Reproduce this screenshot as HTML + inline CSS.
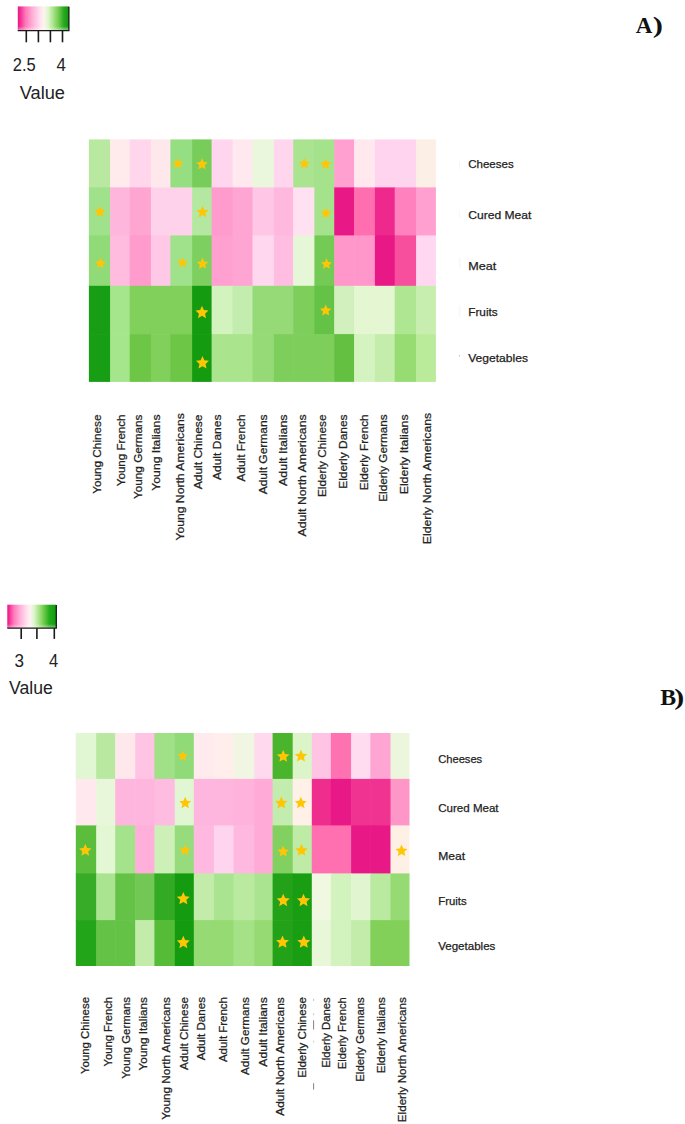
<!DOCTYPE html>
<html lang="en"><head><meta charset="utf-8"><title>Heatmaps</title>
<style>
html,body{margin:0;padding:0;background:#fff;}
body{width:685px;height:1124px;overflow:hidden;}
svg{display:block;}
.lab{font-family:"Liberation Sans",sans-serif;font-size:11.6px;fill:#222;stroke:#222;stroke-width:0.25px;}
.leg{font-family:"Liberation Sans",sans-serif;font-size:17.5px;fill:#222;}
.num{font-size:19px;}
.ttl{font-family:"Liberation Serif",serif;font-weight:bold;font-size:23px;fill:#111;}
</style></head><body>
<svg width="685" height="1124" viewBox="0 0 685 1124">
<defs>
<linearGradient id="lg" x1="0" x2="1" y1="0" y2="0">
<stop offset="0" stop-color="#e81685"/><stop offset="0.06" stop-color="#f5359a"/><stop offset="0.15" stop-color="#ff78b8"/><stop offset="0.3" stop-color="#ffb4da"/><stop offset="0.44" stop-color="#ffe2f0"/><stop offset="0.51" stop-color="#fdf4ee"/><stop offset="0.6" stop-color="#dcf5ca"/><stop offset="0.7" stop-color="#a6e286"/><stop offset="0.8" stop-color="#70c94d"/><stop offset="0.9" stop-color="#28aa20"/><stop offset="1" stop-color="#10940e"/>
</linearGradient>
<linearGradient id="lg2" x1="0" x2="1" y1="0" y2="0">
<stop offset="0" stop-color="#e81685"/><stop offset="0.05" stop-color="#f5359a"/><stop offset="0.13" stop-color="#ff78b8"/><stop offset="0.27" stop-color="#ffb4da"/><stop offset="0.40" stop-color="#ffe2f0"/><stop offset="0.47" stop-color="#fdf4ee"/><stop offset="0.55" stop-color="#dcf5ca"/><stop offset="0.65" stop-color="#a6e286"/><stop offset="0.75" stop-color="#6cc948"/><stop offset="0.86" stop-color="#22ac1c"/><stop offset="1" stop-color="#129a10"/>
</linearGradient>
<linearGradient id="sh" x1="0" x2="0" y1="0" y2="1">
<stop offset="0" stop-color="#fff" stop-opacity="0"/><stop offset="0.82" stop-color="#fff" stop-opacity="0"/><stop offset="1" stop-color="#fff" stop-opacity="0.5"/>
</linearGradient>
</defs>
<rect width="685" height="1124" fill="#fff"/>
<g id="heatA"><rect x="88.90" y="139.40" width="21.80" height="48.60" fill="rgb(185,232,160)"/>
<rect x="110.10" y="139.40" width="20.20" height="48.60" fill="rgb(255,235,235)"/>
<rect x="129.70" y="139.40" width="21.80" height="48.60" fill="rgb(255,214,236)"/>
<rect x="150.90" y="139.40" width="20.10" height="48.60" fill="rgb(255,232,236)"/>
<rect x="170.40" y="139.40" width="22.30" height="48.60" fill="rgb(150,222,130)"/>
<rect x="192.10" y="139.40" width="20.10" height="48.60" fill="rgb(120,205,90)"/>
<rect x="211.60" y="139.40" width="21.60" height="48.60" fill="rgb(255,214,238)"/>
<rect x="232.60" y="139.40" width="20.50" height="48.60" fill="rgb(255,232,238)"/>
<rect x="252.50" y="139.40" width="22.00" height="48.60" fill="rgb(234,247,221)"/>
<rect x="273.90" y="139.40" width="19.90" height="48.60" fill="rgb(255,214,238)"/>
<rect x="293.20" y="139.40" width="21.80" height="48.60" fill="rgb(170,228,145)"/>
<rect x="314.40" y="139.40" width="20.40" height="48.60" fill="rgb(165,226,140)"/>
<rect x="334.20" y="139.40" width="20.50" height="48.60" fill="rgb(255,160,208)"/>
<rect x="354.10" y="139.40" width="21.40" height="48.60" fill="rgb(255,232,238)"/>
<rect x="374.90" y="139.40" width="20.40" height="48.60" fill="rgb(255,212,238)"/>
<rect x="394.70" y="139.40" width="22.00" height="48.60" fill="rgb(255,212,238)"/>
<rect x="416.10" y="139.40" width="19.80" height="48.60" fill="rgb(252,240,230)"/>
<rect x="88.90" y="187.40" width="21.80" height="48.60" fill="rgb(160,226,140)"/>
<rect x="110.10" y="187.40" width="20.20" height="48.60" fill="rgb(255,182,220)"/>
<rect x="129.70" y="187.40" width="21.80" height="48.60" fill="rgb(255,165,210)"/>
<rect x="150.90" y="187.40" width="20.10" height="48.60" fill="rgb(255,210,236)"/>
<rect x="170.40" y="187.40" width="22.30" height="48.60" fill="rgb(255,210,236)"/>
<rect x="192.10" y="187.40" width="20.10" height="48.60" fill="rgb(180,232,160)"/>
<rect x="211.60" y="187.40" width="21.60" height="48.60" fill="rgb(255,155,205)"/>
<rect x="232.60" y="187.40" width="20.50" height="48.60" fill="rgb(255,165,212)"/>
<rect x="252.50" y="187.40" width="22.00" height="48.60" fill="rgb(255,198,229)"/>
<rect x="273.90" y="187.40" width="19.90" height="48.60" fill="rgb(255,185,222)"/>
<rect x="293.20" y="187.40" width="21.80" height="48.60" fill="rgb(255,225,242)"/>
<rect x="314.40" y="187.40" width="20.40" height="48.60" fill="rgb(165,226,140)"/>
<rect x="334.20" y="187.40" width="20.50" height="48.60" fill="rgb(232,25,135)"/>
<rect x="354.10" y="187.40" width="21.40" height="48.60" fill="rgb(255,110,175)"/>
<rect x="374.90" y="187.40" width="20.40" height="48.60" fill="rgb(238,40,140)"/>
<rect x="394.70" y="187.40" width="22.00" height="48.60" fill="rgb(255,130,190)"/>
<rect x="416.10" y="187.40" width="19.80" height="48.60" fill="rgb(255,160,208)"/>
<rect x="88.90" y="235.40" width="21.80" height="51.00" fill="rgb(145,218,120)"/>
<rect x="110.10" y="235.40" width="20.20" height="51.00" fill="rgb(255,188,222)"/>
<rect x="129.70" y="235.40" width="21.80" height="51.00" fill="rgb(255,155,205)"/>
<rect x="150.90" y="235.40" width="20.10" height="51.00" fill="rgb(255,200,230)"/>
<rect x="170.40" y="235.40" width="22.30" height="51.00" fill="rgb(160,226,140)"/>
<rect x="192.10" y="235.40" width="20.10" height="51.00" fill="rgb(125,208,95)"/>
<rect x="211.60" y="235.40" width="21.60" height="51.00" fill="rgb(255,160,208)"/>
<rect x="232.60" y="235.40" width="20.50" height="51.00" fill="rgb(255,165,212)"/>
<rect x="252.50" y="235.40" width="22.00" height="51.00" fill="rgb(255,215,238)"/>
<rect x="273.90" y="235.40" width="19.90" height="51.00" fill="rgb(255,190,225)"/>
<rect x="293.20" y="235.40" width="21.80" height="51.00" fill="rgb(230,247,215)"/>
<rect x="314.40" y="235.40" width="20.40" height="51.00" fill="rgb(115,202,85)"/>
<rect x="334.20" y="235.40" width="20.50" height="51.00" fill="rgb(255,151,202)"/>
<rect x="354.10" y="235.40" width="21.40" height="51.00" fill="rgb(255,151,202)"/>
<rect x="374.90" y="235.40" width="20.40" height="51.00" fill="rgb(232,25,135)"/>
<rect x="394.70" y="235.40" width="22.00" height="51.00" fill="rgb(247,78,157)"/>
<rect x="416.10" y="235.40" width="19.80" height="51.00" fill="rgb(255,215,240)"/>
<rect x="88.90" y="285.80" width="21.80" height="48.90" fill="rgb(24,158,20)"/>
<rect x="110.10" y="285.80" width="20.20" height="48.90" fill="rgb(165,230,140)"/>
<rect x="129.70" y="285.80" width="21.80" height="48.90" fill="rgb(130,208,92)"/>
<rect x="150.90" y="285.80" width="20.10" height="48.90" fill="rgb(130,208,92)"/>
<rect x="170.40" y="285.80" width="22.30" height="48.90" fill="rgb(130,208,92)"/>
<rect x="192.10" y="285.80" width="20.10" height="48.90" fill="rgb(20,155,15)"/>
<rect x="211.60" y="285.80" width="21.60" height="48.90" fill="rgb(210,242,190)"/>
<rect x="232.60" y="285.80" width="20.50" height="48.90" fill="rgb(195,236,175)"/>
<rect x="252.50" y="285.80" width="22.00" height="48.90" fill="rgb(150,218,120)"/>
<rect x="273.90" y="285.80" width="19.90" height="48.90" fill="rgb(150,218,120)"/>
<rect x="293.20" y="285.80" width="21.80" height="48.90" fill="rgb(125,206,90)"/>
<rect x="314.40" y="285.80" width="20.40" height="48.90" fill="rgb(100,195,70)"/>
<rect x="334.20" y="285.80" width="20.50" height="48.90" fill="rgb(210,240,190)"/>
<rect x="354.10" y="285.80" width="21.40" height="48.90" fill="rgb(228,247,210)"/>
<rect x="374.90" y="285.80" width="20.40" height="48.90" fill="rgb(228,247,210)"/>
<rect x="394.70" y="285.80" width="22.00" height="48.90" fill="rgb(175,230,145)"/>
<rect x="416.10" y="285.80" width="19.80" height="48.90" fill="rgb(200,238,175)"/>
<rect x="88.90" y="334.10" width="21.80" height="47.80" fill="rgb(24,158,20)"/>
<rect x="110.10" y="334.10" width="20.20" height="47.80" fill="rgb(165,230,140)"/>
<rect x="129.70" y="334.10" width="21.80" height="47.80" fill="rgb(110,198,70)"/>
<rect x="150.90" y="334.10" width="20.10" height="47.80" fill="rgb(130,208,92)"/>
<rect x="170.40" y="334.10" width="22.30" height="47.80" fill="rgb(110,198,70)"/>
<rect x="192.10" y="334.10" width="20.10" height="47.80" fill="rgb(20,155,15)"/>
<rect x="211.60" y="334.10" width="21.60" height="47.80" fill="rgb(170,228,140)"/>
<rect x="232.60" y="334.10" width="20.50" height="47.80" fill="rgb(170,228,140)"/>
<rect x="252.50" y="334.10" width="22.00" height="47.80" fill="rgb(150,218,120)"/>
<rect x="273.90" y="334.10" width="19.90" height="47.80" fill="rgb(125,206,90)"/>
<rect x="293.20" y="334.10" width="21.80" height="47.80" fill="rgb(125,206,90)"/>
<rect x="314.40" y="334.10" width="20.40" height="47.80" fill="rgb(125,206,90)"/>
<rect x="334.20" y="334.10" width="20.50" height="47.80" fill="rgb(100,192,65)"/>
<rect x="354.10" y="334.10" width="21.40" height="47.80" fill="rgb(212,243,192)"/>
<rect x="374.90" y="334.10" width="20.40" height="47.80" fill="rgb(196,237,172)"/>
<rect x="394.70" y="334.10" width="22.00" height="47.80" fill="rgb(150,220,115)"/>
<rect x="416.10" y="334.10" width="19.80" height="47.80" fill="rgb(185,235,155)"/></g>
<g id="starsA"><polygon points="177.90,158.01 179.50,161.59 183.40,162.00 180.49,164.63 181.30,168.47 177.90,166.51 174.50,168.47 175.31,164.63 172.40,162.00 176.30,161.59" fill="#FFC606"/>
<polygon points="202.00,158.26 203.67,162.00 207.75,162.43 204.70,165.18 205.55,169.19 202.00,167.14 198.45,169.19 199.30,165.18 196.25,162.43 200.33,162.00" fill="#FFC606"/>
<polygon points="99.90,205.76 101.57,209.50 105.65,209.93 102.60,212.68 103.45,216.69 99.90,214.64 96.35,216.69 97.20,212.68 94.15,209.93 98.23,209.50" fill="#FFC606"/>
<polygon points="202.50,205.81 204.24,209.72 208.50,210.17 205.32,213.03 206.21,217.22 202.50,215.08 198.79,217.22 199.68,213.03 196.50,210.17 200.76,209.72" fill="#FFC606"/>
<polygon points="100.40,257.61 102.00,261.19 105.90,261.60 102.98,264.23 103.80,268.07 100.40,266.11 97.00,268.07 97.82,264.23 94.90,261.60 98.80,261.19" fill="#FFC606"/>
<polygon points="182.50,257.11 184.10,260.69 188.00,261.10 185.09,263.73 185.90,267.57 182.50,265.61 179.10,267.57 179.91,263.73 177.00,261.10 180.90,260.69" fill="#FFC606"/>
<polygon points="202.50,257.86 204.17,261.60 208.25,262.03 205.20,264.78 206.05,268.79 202.50,266.74 198.95,268.79 199.80,264.78 196.75,262.03 200.83,261.60" fill="#FFC606"/>
<polygon points="202.00,305.81 203.89,310.04 208.50,310.53 205.06,313.63 206.02,318.17 202.00,315.85 197.98,318.17 198.94,313.63 195.50,310.53 200.11,310.04" fill="#FFC606"/>
<polygon points="202.50,356.11 204.39,360.34 209.00,360.83 205.56,363.93 206.52,368.47 202.50,366.15 198.48,368.47 199.44,363.93 196.00,360.83 200.61,360.34" fill="#FFC606"/>
<polygon points="304.40,158.01 306.00,161.59 309.90,162.00 306.98,164.63 307.80,168.47 304.40,166.51 301.00,168.47 301.81,164.63 298.90,162.00 302.80,161.59" fill="#FFC606"/>
<polygon points="325.70,158.51 327.30,162.09 331.20,162.50 328.28,165.13 329.10,168.97 325.70,167.01 322.30,168.97 323.12,165.13 320.20,162.50 324.10,162.09" fill="#FFC606"/>
<polygon points="326.00,207.51 327.60,211.09 331.50,211.50 328.58,214.13 329.40,217.97 326.00,216.01 322.60,217.97 323.42,214.13 320.50,211.50 324.40,211.09" fill="#FFC606"/>
<polygon points="326.50,258.31 328.10,261.89 332.00,262.30 329.08,264.93 329.90,268.77 326.50,266.81 323.10,268.77 323.92,264.93 321.00,262.30 324.90,261.89" fill="#FFC606"/>
<polygon points="325.70,304.56 327.37,308.30 331.45,308.73 328.40,311.48 329.25,315.49 325.70,313.44 322.15,315.49 323.00,311.48 319.95,308.73 324.03,308.30" fill="#FFC606"/></g>
<g id="heatB"><rect x="75.80" y="733.00" width="21.00" height="46.50" fill="rgb(225,246,210)"/>
<rect x="96.20" y="733.00" width="19.60" height="46.50" fill="rgb(185,232,160)"/>
<rect x="115.20" y="733.00" width="20.60" height="46.50" fill="rgb(255,232,236)"/>
<rect x="135.20" y="733.00" width="19.80" height="46.50" fill="rgb(255,195,228)"/>
<rect x="154.40" y="733.00" width="21.00" height="46.50" fill="rgb(160,224,135)"/>
<rect x="174.80" y="733.00" width="19.60" height="46.50" fill="rgb(145,218,120)"/>
<rect x="193.80" y="733.00" width="20.70" height="46.50" fill="rgb(255,235,238)"/>
<rect x="213.90" y="733.00" width="20.20" height="46.50" fill="rgb(255,238,235)"/>
<rect x="233.50" y="733.00" width="21.30" height="46.50" fill="rgb(240,246,226)"/>
<rect x="254.20" y="733.00" width="19.00" height="46.50" fill="rgb(255,218,238)"/>
<rect x="272.60" y="733.00" width="20.70" height="46.50" fill="rgb(75,180,45)"/>
<rect x="292.70" y="733.00" width="19.70" height="46.50" fill="rgb(220,245,200)"/>
<rect x="311.80" y="733.00" width="19.70" height="46.50" fill="rgb(255,195,228)"/>
<rect x="330.90" y="733.00" width="20.80" height="46.50" fill="rgb(255,114,177)"/>
<rect x="351.10" y="733.00" width="19.80" height="46.50" fill="rgb(255,220,240)"/>
<rect x="370.30" y="733.00" width="20.80" height="46.50" fill="rgb(255,165,212)"/>
<rect x="390.50" y="733.00" width="19.00" height="46.50" fill="rgb(235,246,220)"/>
<rect x="75.80" y="778.90" width="21.00" height="47.10" fill="rgb(255,232,238)"/>
<rect x="96.20" y="778.90" width="19.60" height="47.10" fill="rgb(232,247,218)"/>
<rect x="115.20" y="778.90" width="20.60" height="47.10" fill="rgb(255,182,222)"/>
<rect x="135.20" y="778.90" width="19.80" height="47.10" fill="rgb(255,182,222)"/>
<rect x="154.40" y="778.90" width="21.00" height="47.10" fill="rgb(255,188,225)"/>
<rect x="174.80" y="778.90" width="19.60" height="47.10" fill="rgb(225,246,210)"/>
<rect x="193.80" y="778.90" width="20.70" height="47.10" fill="rgb(255,182,222)"/>
<rect x="213.90" y="778.90" width="20.20" height="47.10" fill="rgb(255,182,222)"/>
<rect x="233.50" y="778.90" width="21.30" height="47.10" fill="rgb(255,178,220)"/>
<rect x="254.20" y="778.90" width="19.00" height="47.10" fill="rgb(255,170,215)"/>
<rect x="272.60" y="778.90" width="20.70" height="47.10" fill="rgb(195,236,175)"/>
<rect x="292.70" y="778.90" width="19.70" height="47.10" fill="rgb(255,240,232)"/>
<rect x="311.80" y="778.90" width="19.70" height="47.10" fill="rgb(238,45,140)"/>
<rect x="330.90" y="778.90" width="20.80" height="47.10" fill="rgb(232,25,135)"/>
<rect x="351.10" y="778.90" width="19.80" height="47.10" fill="rgb(240,50,145)"/>
<rect x="370.30" y="778.90" width="20.80" height="47.10" fill="rgb(240,50,145)"/>
<rect x="390.50" y="778.90" width="19.00" height="47.10" fill="rgb(255,150,200)"/>
<rect x="75.80" y="825.40" width="21.00" height="48.60" fill="rgb(90,190,60)"/>
<rect x="96.20" y="825.40" width="19.60" height="48.60" fill="rgb(228,247,212)"/>
<rect x="115.20" y="825.40" width="20.60" height="48.60" fill="rgb(165,226,140)"/>
<rect x="135.20" y="825.40" width="19.80" height="48.60" fill="rgb(255,175,218)"/>
<rect x="154.40" y="825.40" width="21.00" height="48.60" fill="rgb(205,240,185)"/>
<rect x="174.80" y="825.40" width="19.60" height="48.60" fill="rgb(150,220,125)"/>
<rect x="193.80" y="825.40" width="20.70" height="48.60" fill="rgb(255,185,225)"/>
<rect x="213.90" y="825.40" width="20.20" height="48.60" fill="rgb(255,212,238)"/>
<rect x="233.50" y="825.40" width="21.30" height="48.60" fill="rgb(255,185,225)"/>
<rect x="254.20" y="825.40" width="19.00" height="48.60" fill="rgb(255,170,215)"/>
<rect x="272.60" y="825.40" width="20.70" height="48.60" fill="rgb(130,208,95)"/>
<rect x="292.70" y="825.40" width="19.70" height="48.60" fill="rgb(190,235,165)"/>
<rect x="311.80" y="825.40" width="19.70" height="48.60" fill="rgb(255,112,176)"/>
<rect x="330.90" y="825.40" width="20.80" height="48.60" fill="rgb(255,112,176)"/>
<rect x="351.10" y="825.40" width="19.80" height="48.60" fill="rgb(232,25,135)"/>
<rect x="370.30" y="825.40" width="20.80" height="48.60" fill="rgb(232,25,135)"/>
<rect x="390.50" y="825.40" width="19.00" height="48.60" fill="rgb(255,240,230)"/>
<rect x="75.80" y="873.40" width="21.00" height="47.30" fill="rgb(55,172,40)"/>
<rect x="96.20" y="873.40" width="19.60" height="47.30" fill="rgb(170,228,145)"/>
<rect x="115.20" y="873.40" width="20.60" height="47.30" fill="rgb(100,195,70)"/>
<rect x="135.20" y="873.40" width="19.80" height="47.30" fill="rgb(115,200,85)"/>
<rect x="154.40" y="873.40" width="21.00" height="47.30" fill="rgb(50,170,35)"/>
<rect x="174.80" y="873.40" width="19.60" height="47.30" fill="rgb(20,155,15)"/>
<rect x="193.80" y="873.40" width="20.70" height="47.30" fill="rgb(195,236,170)"/>
<rect x="213.90" y="873.40" width="20.20" height="47.30" fill="rgb(170,228,145)"/>
<rect x="233.50" y="873.40" width="21.30" height="47.30" fill="rgb(185,234,160)"/>
<rect x="254.20" y="873.40" width="19.00" height="47.30" fill="rgb(170,228,145)"/>
<rect x="272.60" y="873.40" width="20.70" height="47.30" fill="rgb(35,162,25)"/>
<rect x="292.70" y="873.40" width="19.70" height="47.30" fill="rgb(25,157,18)"/>
<rect x="311.80" y="873.40" width="19.70" height="47.30" fill="rgb(240,248,225)"/>
<rect x="330.90" y="873.40" width="20.80" height="47.30" fill="rgb(210,242,190)"/>
<rect x="351.10" y="873.40" width="19.80" height="47.30" fill="rgb(225,246,208)"/>
<rect x="370.30" y="873.40" width="20.80" height="47.30" fill="rgb(185,234,160)"/>
<rect x="390.50" y="873.40" width="19.00" height="47.30" fill="rgb(150,218,115)"/>
<rect x="75.80" y="920.10" width="21.00" height="45.90" fill="rgb(35,165,25)"/>
<rect x="96.20" y="920.10" width="19.60" height="45.90" fill="rgb(100,195,70)"/>
<rect x="115.20" y="920.10" width="20.60" height="45.90" fill="rgb(100,195,70)"/>
<rect x="135.20" y="920.10" width="19.80" height="45.90" fill="rgb(195,236,170)"/>
<rect x="154.40" y="920.10" width="21.00" height="45.90" fill="rgb(85,188,55)"/>
<rect x="174.80" y="920.10" width="19.60" height="45.90" fill="rgb(20,155,15)"/>
<rect x="193.80" y="920.10" width="20.70" height="45.90" fill="rgb(150,218,115)"/>
<rect x="213.90" y="920.10" width="20.20" height="45.90" fill="rgb(150,218,115)"/>
<rect x="233.50" y="920.10" width="21.30" height="45.90" fill="rgb(165,226,135)"/>
<rect x="254.20" y="920.10" width="19.00" height="45.90" fill="rgb(150,218,115)"/>
<rect x="272.60" y="920.10" width="20.70" height="45.90" fill="rgb(35,162,25)"/>
<rect x="292.70" y="920.10" width="19.70" height="45.90" fill="rgb(25,157,18)"/>
<rect x="311.80" y="920.10" width="19.70" height="45.90" fill="rgb(232,247,215)"/>
<rect x="330.90" y="920.10" width="20.80" height="45.90" fill="rgb(210,242,190)"/>
<rect x="351.10" y="920.10" width="19.80" height="45.90" fill="rgb(195,236,170)"/>
<rect x="370.30" y="920.10" width="20.80" height="45.90" fill="rgb(130,208,90)"/>
<rect x="390.50" y="920.10" width="19.00" height="45.90" fill="rgb(130,208,90)"/></g>
<g id="starsB"><polygon points="182.80,750.56 184.32,753.98 188.05,754.37 185.27,756.88 186.04,760.54 182.80,758.67 179.56,760.54 180.33,756.88 177.55,754.37 181.28,753.98" fill="#FFC606"/>
<polygon points="185.20,796.81 186.94,800.72 191.20,801.17 188.02,804.03 188.91,808.22 185.20,806.08 181.49,808.22 182.38,804.03 179.20,801.17 183.46,800.72" fill="#FFC606"/>
<polygon points="85.30,843.86 87.12,847.93 91.55,848.40 88.24,851.38 89.16,855.75 85.30,853.52 81.44,855.75 82.36,851.38 79.05,848.40 83.48,847.93" fill="#FFC606"/>
<polygon points="185.00,844.61 186.60,848.19 190.50,848.60 187.59,851.23 188.40,855.07 185.00,853.11 181.60,855.07 182.41,851.23 179.50,848.60 183.40,848.19" fill="#FFC606"/>
<polygon points="183.30,891.91 185.19,896.14 189.80,896.63 186.36,899.73 187.32,904.27 183.30,901.95 179.28,904.27 180.25,899.73 176.80,896.63 181.41,896.14" fill="#FFC606"/>
<polygon points="183.30,935.81 185.19,940.04 189.80,940.53 186.36,943.63 187.32,948.17 183.30,945.85 179.28,948.17 180.25,943.63 176.80,940.53 181.41,940.04" fill="#FFC606"/>
<polygon points="283.20,749.96 285.02,754.03 289.45,754.50 286.14,757.48 287.06,761.85 283.20,759.62 279.34,761.85 280.26,757.48 276.95,754.50 281.38,754.03" fill="#FFC606"/>
<polygon points="301.00,749.56 302.82,753.63 307.25,754.10 303.94,757.08 304.86,761.45 301.00,759.22 297.14,761.45 298.06,757.08 294.75,754.10 299.18,753.63" fill="#FFC606"/>
<polygon points="281.30,796.56 283.12,800.63 287.55,801.10 284.24,804.08 285.16,808.45 281.30,806.22 277.44,808.45 278.36,804.08 275.05,801.10 279.48,800.63" fill="#FFC606"/>
<polygon points="300.80,796.81 302.54,800.72 306.80,801.17 303.62,804.03 304.51,808.22 300.80,806.08 297.09,808.22 297.98,804.03 294.80,801.17 299.06,800.72" fill="#FFC606"/>
<polygon points="283.20,845.56 284.87,849.30 288.95,849.73 285.90,852.48 286.75,856.49 283.20,854.44 279.65,856.49 280.50,852.48 277.45,849.73 281.53,849.30" fill="#FFC606"/>
<polygon points="301.50,843.86 303.32,847.93 307.75,848.40 304.44,851.38 305.36,855.75 301.50,853.52 297.64,855.75 298.56,851.38 295.25,848.40 299.68,847.93" fill="#FFC606"/>
<polygon points="401.50,844.61 403.24,848.52 407.50,848.97 404.32,851.83 405.21,856.02 401.50,853.88 397.79,856.02 398.68,851.83 395.50,848.97 399.76,848.52" fill="#FFC606"/>
<polygon points="283.20,893.81 285.09,898.04 289.70,898.53 286.25,901.63 287.22,906.17 283.20,903.85 279.18,906.17 280.14,901.63 276.70,898.53 281.31,898.04" fill="#FFC606"/>
<polygon points="303.50,893.81 305.39,898.04 310.00,898.53 306.56,901.63 307.52,906.17 303.50,903.85 299.48,906.17 300.44,901.63 297.00,898.53 301.61,898.04" fill="#FFC606"/>
<polygon points="282.50,935.41 284.39,939.64 289.00,940.13 285.56,943.23 286.52,947.77 282.50,945.45 278.48,947.77 279.44,943.23 276.00,940.13 280.61,939.64" fill="#FFC606"/>
<polygon points="303.80,935.41 305.69,939.64 310.30,940.13 306.86,943.23 307.82,947.77 303.80,945.45 299.78,947.77 300.75,943.23 297.30,940.13 301.91,939.64" fill="#FFC606"/></g>
<g id="colsA"><text transform="translate(101.30,493.80) rotate(-90)" textLength="79.30" lengthAdjust="spacingAndGlyphs" class="lab">Young Chinese</text>
<text transform="translate(125.00,486.20) rotate(-90)" textLength="71.70" lengthAdjust="spacingAndGlyphs" class="lab">Young French</text>
<text transform="translate(142.30,499.00) rotate(-90)" textLength="84.50" lengthAdjust="spacingAndGlyphs" class="lab">Young Germans</text>
<text transform="translate(160.40,490.70) rotate(-90)" textLength="76.20" lengthAdjust="spacingAndGlyphs" class="lab">Young Italians</text>
<text transform="translate(184.30,540.60) rotate(-90)" textLength="127.40" lengthAdjust="spacingAndGlyphs" class="lab">Young North Americans</text>
<text transform="translate(202.40,489.30) rotate(-90)" textLength="74.80" lengthAdjust="spacingAndGlyphs" class="lab">Adult Chinese</text>
<text transform="translate(221.00,480.10) rotate(-90)" textLength="65.60" lengthAdjust="spacingAndGlyphs" class="lab">Adult Danes</text>
<text transform="translate(244.50,481.50) rotate(-90)" textLength="67.00" lengthAdjust="spacingAndGlyphs" class="lab">Adult French</text>
<text transform="translate(267.20,494.30) rotate(-90)" textLength="79.90" lengthAdjust="spacingAndGlyphs" class="lab">Adult Germans</text>
<text transform="translate(286.50,486.00) rotate(-90)" textLength="71.60" lengthAdjust="spacingAndGlyphs" class="lab">Adult Italians</text>
<text transform="translate(305.60,536.50) rotate(-90)" textLength="122.10" lengthAdjust="spacingAndGlyphs" class="lab">Adult North Americans</text>
<text transform="translate(325.60,497.10) rotate(-90)" textLength="82.70" lengthAdjust="spacingAndGlyphs" class="lab">Elderly Chinese</text>
<text transform="translate(347.10,488.80) rotate(-90)" textLength="74.40" lengthAdjust="spacingAndGlyphs" class="lab">Elderly Danes</text>
<text transform="translate(368.10,490.20) rotate(-90)" textLength="75.80" lengthAdjust="spacingAndGlyphs" class="lab">Elderly French</text>
<text transform="translate(386.50,501.80) rotate(-90)" textLength="87.40" lengthAdjust="spacingAndGlyphs" class="lab">Elderly Germans</text>
<text transform="translate(408.40,494.30) rotate(-90)" textLength="79.90" lengthAdjust="spacingAndGlyphs" class="lab">Elderly Italians</text>
<text transform="translate(430.60,544.20) rotate(-90)" textLength="131.40" lengthAdjust="spacingAndGlyphs" class="lab">Elderly North Americans</text></g>
<g id="colsB"><text transform="translate(89.40,1074.00) rotate(-90)" textLength="77.00" lengthAdjust="spacingAndGlyphs" class="lab">Young Chinese</text>
<text transform="translate(112.20,1066.50) rotate(-90)" textLength="69.50" lengthAdjust="spacingAndGlyphs" class="lab">Young French</text>
<text transform="translate(129.90,1078.70) rotate(-90)" textLength="81.70" lengthAdjust="spacingAndGlyphs" class="lab">Young Germans</text>
<text transform="translate(147.40,1070.40) rotate(-90)" textLength="73.40" lengthAdjust="spacingAndGlyphs" class="lab">Young Italians</text>
<text transform="translate(169.90,1119.80) rotate(-90)" textLength="122.80" lengthAdjust="spacingAndGlyphs" class="lab">Young North Americans</text>
<text transform="translate(187.90,1069.90) rotate(-90)" textLength="72.90" lengthAdjust="spacingAndGlyphs" class="lab">Adult Chinese</text>
<text transform="translate(205.10,1060.20) rotate(-90)" textLength="63.20" lengthAdjust="spacingAndGlyphs" class="lab">Adult Danes</text>
<text transform="translate(227.30,1062.10) rotate(-90)" textLength="65.10" lengthAdjust="spacingAndGlyphs" class="lab">Adult French</text>
<text transform="translate(249.00,1075.00) rotate(-90)" textLength="77.80" lengthAdjust="spacingAndGlyphs" class="lab">Adult Germans</text>
<text transform="translate(267.00,1066.70) rotate(-90)" textLength="69.50" lengthAdjust="spacingAndGlyphs" class="lab">Adult Italians</text>
<text transform="translate(284.00,1115.80) rotate(-90)" textLength="118.60" lengthAdjust="spacingAndGlyphs" class="lab">Adult North Americans</text>
<text transform="translate(305.60,1077.80) rotate(-90)" textLength="80.60" lengthAdjust="spacingAndGlyphs" class="lab">Elderly Chinese</text>
<text transform="translate(329.70,1067.80) rotate(-90)" textLength="70.60" lengthAdjust="spacingAndGlyphs" class="lab">Elderly Danes</text>
<text transform="translate(346.30,1069.20) rotate(-90)" textLength="72.00" lengthAdjust="spacingAndGlyphs" class="lab">Elderly French</text>
<text transform="translate(364.20,1081.70) rotate(-90)" textLength="84.50" lengthAdjust="spacingAndGlyphs" class="lab">Elderly Germans</text>
<text transform="translate(385.10,1073.30) rotate(-90)" textLength="76.10" lengthAdjust="spacingAndGlyphs" class="lab">Elderly Italians</text>
<text transform="translate(406.30,1122.20) rotate(-90)" textLength="125.00" lengthAdjust="spacingAndGlyphs" class="lab">Elderly North Americans</text></g>
<g id="rowsA"><text x="468.20" y="167.80" textLength="45.50" lengthAdjust="spacingAndGlyphs" class="lab">Cheeses</text>
<text x="468.20" y="218.60" textLength="63.20" lengthAdjust="spacingAndGlyphs" class="lab">Cured Meat</text>
<text x="468.20" y="269.60" textLength="28.00" lengthAdjust="spacingAndGlyphs" class="lab">Meat</text>
<text x="468.20" y="315.50" textLength="29.50" lengthAdjust="spacingAndGlyphs" class="lab">Fruits</text>
<text x="468.20" y="361.60" textLength="59.80" lengthAdjust="spacingAndGlyphs" class="lab">Vegetables</text></g>
<g id="rowsB"><text x="438.20" y="762.70" textLength="44.00" lengthAdjust="spacingAndGlyphs" class="lab">Cheeses</text>
<text x="438.20" y="811.80" textLength="60.40" lengthAdjust="spacingAndGlyphs" class="lab">Cured Meat</text>
<text x="438.20" y="860.30" textLength="26.90" lengthAdjust="spacingAndGlyphs" class="lab">Meat</text>
<text x="438.20" y="905.10" textLength="28.40" lengthAdjust="spacingAndGlyphs" class="lab">Fruits</text>
<text x="438.20" y="949.50" textLength="57.20" lengthAdjust="spacingAndGlyphs" class="lab">Vegetables</text></g>
<g id="legA"><rect x="17.80" y="6.40" width="51.10" height="24.20" fill="url(#lg)"/>
<rect x="17.80" y="6.40" width="51.10" height="24.20" fill="url(#sh)"/>
<path d="M17.80 30.60 H68.90 V6.70" stroke="#1a1a1a" stroke-width="1.3" fill="none"/>
<line x1="26.30" y1="30.60" x2="26.30" y2="42.30" stroke="#1a1a1a" stroke-width="1.6"/>
<line x1="38.40" y1="30.60" x2="38.40" y2="42.30" stroke="#1a1a1a" stroke-width="1.6"/>
<line x1="50.40" y1="30.60" x2="50.40" y2="42.30" stroke="#1a1a1a" stroke-width="1.6"/>
<line x1="62.50" y1="30.60" x2="62.50" y2="42.30" stroke="#1a1a1a" stroke-width="1.6"/>
<text x="12.80" y="71.10" textLength="23.00" lengthAdjust="spacingAndGlyphs" class="leg num">2.5</text>
<text x="56.60" y="71.10" textLength="9.40" lengthAdjust="spacingAndGlyphs" class="leg num">4</text>
<text x="19.70" y="99.30" textLength="45.30" lengthAdjust="spacingAndGlyphs" class="leg">Value</text></g>
<g id="legB"><rect x="7.30" y="604.70" width="49.00" height="23.50" fill="url(#lg2)"/>
<rect x="7.30" y="604.70" width="49.00" height="23.50" fill="url(#sh)"/>
<path d="M7.30 628.20 H56.30 V605.00" stroke="#1a1a1a" stroke-width="1.3" fill="none"/>
<line x1="21.20" y1="628.20" x2="21.20" y2="638.90" stroke="#1a1a1a" stroke-width="1.6"/>
<line x1="36.90" y1="628.20" x2="36.90" y2="638.90" stroke="#1a1a1a" stroke-width="1.6"/>
<line x1="54.30" y1="628.20" x2="54.30" y2="638.90" stroke="#1a1a1a" stroke-width="1.6"/>
<text x="14.60" y="666.60" textLength="9.50" lengthAdjust="spacingAndGlyphs" class="leg num">3</text>
<text x="48.90" y="666.60" textLength="9.20" lengthAdjust="spacingAndGlyphs" class="leg num">4</text>
<text x="9.00" y="694.40" textLength="43.80" lengthAdjust="spacingAndGlyphs" class="leg">Value</text></g>
<text y="32.5" class="ttl"><tspan x="635.8">A</tspan><tspan x="652.8" textLength="10.2" lengthAdjust="spacingAndGlyphs">)</tspan></text>
<text y="704.8" class="ttl"><tspan x="660.2" textLength="15.9" lengthAdjust="spacingAndGlyphs">B</tspan><tspan x="674.2" textLength="10" lengthAdjust="spacingAndGlyphs">)</tspan></text>
<g id="dots"><circle cx="459.5" cy="355.7" r="0.7" fill="#b8b8b8"/><rect x="459" y="162" width="1" height="7" fill="#f7f7f1"/><rect x="459" y="211" width="1" height="7" fill="#f7f7f1"/><rect x="459" y="258" width="1.5" height="10" fill="#f8f8f3"/><rect x="458.5" y="305" width="2" height="12" fill="#f9f9f4"/></g>
<g id="marks" stroke-width="0.9" fill="none"><path d="M313.6 998.8V1000.9M313.6 1013.4V1015.2M313.6 1040.8V1042.3" stroke="#bbb"/><path d="M313.6 1020.3V1029.5M313.6 1083.2V1089.6" stroke="#777"/></g>
</svg>
</body></html>
